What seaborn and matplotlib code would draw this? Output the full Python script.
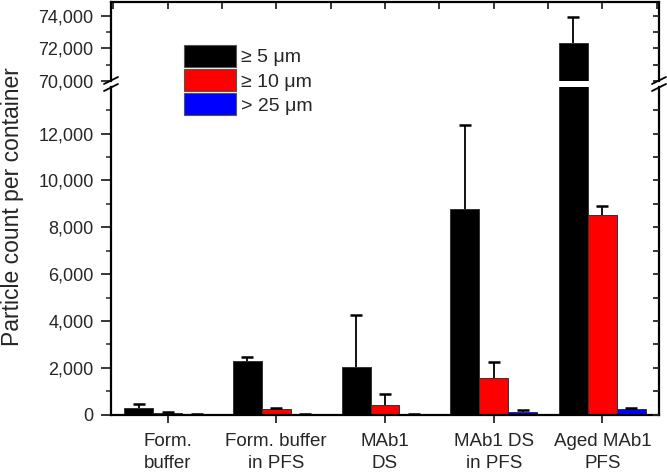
import numpy as np
import pandas as pd
import matplotlib
matplotlib.use("Agg")
import matplotlib.pyplot as plt
import seaborn as sns
from matplotlib.lines import Line2D
from matplotlib.patches import Patch
from matplotlib.ticker import FuncFormatter, MultipleLocator

# dane
kategorie = ["Form.\nbuffer", "Form. buffer\nin PFS", "MAb1\nDS", "MAb1 DS\nin PFS", "Aged MAb1\nPFS"]
rozmiary = ["\u2265 5 \u03bcm", "\u2265 10 \u03bcm", "> 25 \u03bcm"]
ge5 = [300, 2300, 2030, 8770, 72310]
ge5_err = [140, 170, 2240, 3600, 1650]
ge10 = [70, 230, 430, 1580, 8510]
ge10_err = [30, 60, 450, 690, 390]
gt25 = [25, 10, 30, 130, 230]
gt25_err = [0, 0, 0, 85, 70]

kolory = ["#000000", "#ff0000", "#0000ff"]

wartosci = [ge5, ge10, gt25]
bledy = [ge5_err, ge10_err, gt25_err]
wiersze = []
for r, w in zip(rozmiary, wartosci):
    for k, v in zip(kategorie, w):
        wiersze.append({"Probka": k, "Rozmiar": r, "Liczba": v})
df = pd.DataFrame(wiersze)

sns.set_style("ticks")
plt.rcParams['font.family'] = ['Liberation Sans', 'DejaVu Sans']

fig = plt.figure(figsize=(6.67, 4.73), dpi=100)
W, H = 667, 473
lewo, prawo = 111, 659
ax_gora = fig.add_axes([lewo / W, 1 - 80.7 / H, (prawo - lewo) / W, (80.7 - 1.7) / H])
ax_dol = fig.add_axes([lewo / W, 1 - 414.7 / H, (prawo - lewo) / W, (414.7 - 87) / H])

for ax in (ax_gora, ax_dol):
    sns.barplot(data=df, x="Probka", y="Liczba", hue="Rozmiar", palette=kolory,
                saturation=1, errorbar=None, width=0.8, edgecolor="#333333",
                linewidth=0.7, legend=False, ax=ax)
    # slupki bledow tylko w gore, kreska na koncu jako "cap"
    for j in range(3):
        xs = np.arange(len(kategorie)) + (j - 1) * 0.8 / 3
        gora = np.array(wartosci[j]) + np.array(bledy[j])
        ax.errorbar(xs, gora, yerr=[bledy[j], np.zeros(len(kategorie))],
                    fmt="_", color="black", ms=8, mew=1.8, elinewidth=1.3, capsize=0)
    ax.set_xlim(-0.52, 4.52)
    ax.set_xlabel("")
    ax.set_ylabel("")
    for s in ax.spines.values():
        s.set_linewidth(1.6)
        s.set_color("black")

fmt = FuncFormatter(lambda v, p: f"{int(v):,}")

ax_dol.set_ylim(0, 13990)
ax_dol.spines["top"].set_visible(False)
ax_dol.yaxis.set_major_locator(MultipleLocator(2000))
ax_dol.yaxis.set_minor_locator(MultipleLocator(1000))
ax_dol.yaxis.set_major_formatter(fmt)
ax_dol.set_xticks(range(len(kategorie)))
ax_dol.set_xticklabels(kategorie, fontsize=13.5)
for lbl in ax_dol.get_xticklabels():
    lbl.set_linespacing(1.4)
ax_dol.tick_params(axis="x", direction="out", length=6, width=1.3, pad=7)
ax_dol.tick_params(axis="y", which="major", direction="out", length=7, width=1.3,
                   labelsize=13, pad=5.5)
ax_dol.tick_params(axis="y", which="minor", direction="out", length=3.5, width=1.1)

ax_gora.set_ylim(70000, 74900)
ax_gora.spines["bottom"].set_visible(False)
ax_gora.yaxis.set_major_locator(MultipleLocator(2000))
ax_gora.yaxis.set_minor_locator(MultipleLocator(1000))
ax_gora.yaxis.set_major_formatter(fmt)
ax_gora.set_xticks(range(len(kategorie)))
ax_gora.set_xticks(np.arange(-0.5, 5, 1.0), minor=True)
ax_gora.tick_params(axis="x", which="both", bottom=False, top=True, labelbottom=False,
                    direction="in", length=5, width=1.3)
ax_gora.tick_params(axis="y", which="major", direction="out", length=7, width=1.3,
                    labelsize=13, pad=5.5)
ax_gora.tick_params(axis="y", which="minor", direction="out", length=3.5, width=1.1)

# prawa os - znaczniki do srodka
for ax in (ax_gora, ax_dol):
    ax2 = ax.twinx()
    ax2.set_ylim(ax.get_ylim())
    ax2.yaxis.set_major_locator(MultipleLocator(1000))
    ax2.tick_params(axis="y", direction="in", length=4, width=1.3, labelright=False)
    for s in ax2.spines.values():
        s.set_visible(False)

# znaczki przerwania osi
for xp in (lewo, prawo):
    for dy in (0, 7):
        fig.add_artist(Line2D([(xp - 7) / W, (xp + 7) / W],
                              [1 - (84 + dy) / H, 1 - (77 + dy) / H],
                              color="black", lw=1.3, transform=fig.transFigure))

fig.text(0.018, 1 - 207 / H, "Particle count per container", rotation=90,
         ha="center", va="center", fontsize=16.5)

uchwyty = [Patch(facecolor=c, edgecolor="#555555", linewidth=0.8) for c in kolory]
fig.legend(uchwyty, rozmiary, loc="upper left", bbox_to_anchor=(184 / W, 1 - 45 / H),
           frameon=False, fontsize=14, handlelength=2.65, handleheight=1.35,
           handletextpad=0.3, labelspacing=0.12, borderpad=0, borderaxespad=0)

fig.savefig("out.png", dpi=100)
